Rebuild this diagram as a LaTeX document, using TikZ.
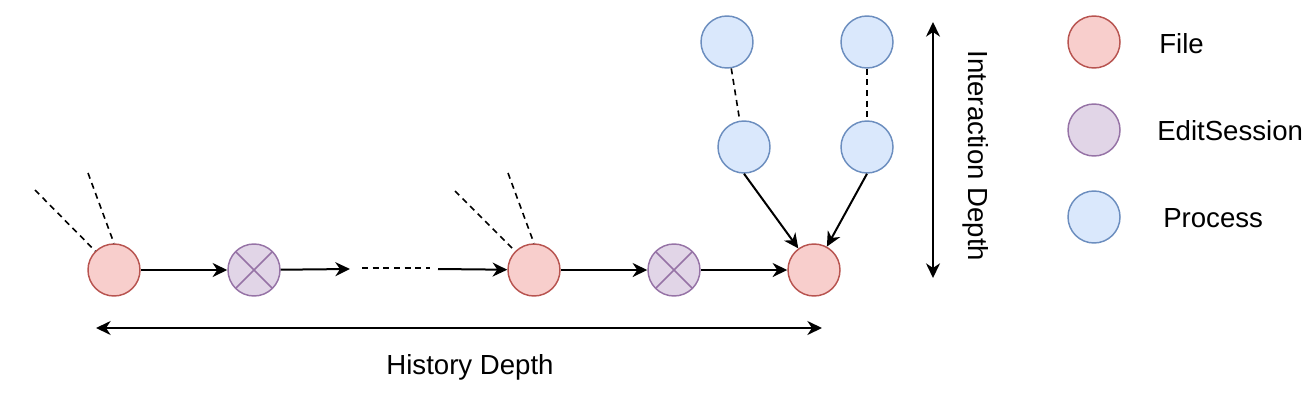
\documentclass[tikz,border=0pt]{standalone}
\usepackage{fontspec}
\setmainfont{Liberation Sans}
\usetikzlibrary{arrows.meta}
\definecolor{filefill}{HTML}{F8CECC}
\definecolor{filedraw}{HTML}{B85450}
\definecolor{editfill}{HTML}{E1D5E7}
\definecolor{editdraw}{HTML}{9673A6}
\definecolor{procfill}{HTML}{DAE8FC}
\definecolor{procdraw}{HTML}{6C8EBF}
\begin{document}
\begin{tikzpicture}[x=0.75pt,y=-0.75pt,
  every node/.style={font=\fontsize{20.7pt}{24pt}\selectfont},
  circ/.style={circle,minimum size=39pt,inner sep=0pt,line width=1.1pt},
  filenode/.style={circ,draw=filedraw,fill=filefill},
  editplain/.style={circ,draw=editdraw,fill=editfill},
  editnode/.style={editplain,
    path picture={\draw[editdraw,line width=1.1pt]
      (path picture bounding box.north west)--(path picture bounding box.south east)
      (path picture bounding box.north east)--(path picture bounding box.south west);}},
  procnode/.style={circ,draw=procdraw,fill=procfill},
  arr/.style={line width=1.5pt,-{Stealth[length=11pt,width=10.5pt,inset=3.5pt]}},
  dbl/.style={line width=1.5pt,{Stealth[length=11pt,width=10.5pt,inset=3.5pt]}-{Stealth[length=11pt,width=10.5pt,inset=3.5pt]}},
  dsh/.style={line width=1.2pt,dash pattern=on 4.5pt off 3.5pt},
  lbl/.style={inner sep=0pt}
]
\useasboundingbox (0,0) rectangle (1316,400);

% main chain
\node[filenode] (f1) at (114,270) {};
\node[editnode] (e1) at (254,270) {};
\node[filenode] (f2) at (534,270) {};
\node[editnode] (e2) at (674,270) {};
\node[filenode] (f3) at (814,270) {};

% processes
\node[procnode] (pt1) at (727,42) {};
\node[procnode] (pt2) at (867,42) {};
\node[procnode] (pm1) at (744,147) {};
\node[procnode] (pm2) at (867,147) {};

% free coordinates
\coordinate (c1) at (350,269);
\coordinate (ds1) at (362,268);
\coordinate (ds2) at (430,268);
\coordinate (c2) at (438,269);
\coordinate (a1) at (35,190);
\coordinate (a2) at (88,173);
\coordinate (b1) at (455,191);
\coordinate (b2) at (508,173);
\coordinate (h1) at (96,328);
\coordinate (h2) at (822,328);
\coordinate (v1) at (933,22);
\coordinate (v2) at (933,278);

% arrows
\draw[arr] (f1) -- (e1);
\draw[arr] (e1) -- (c1);
\draw[dsh] (ds1) -- (ds2);
\draw[arr] (c2) -- (f2);
\draw[arr] (f2) -- (e2);
\draw[arr] (e2) -- (f3);
\draw[arr] (pm1.south) -- (f3);
\draw[arr] (pm2.south) -- (f3);

% dashed links
\draw[dsh] (a1) -- (f1);
\draw[dsh] (a2) -- (f1.north);
\draw[dsh] (b1) -- (f2);
\draw[dsh] (b2) -- (f2.north);
\draw[dsh] (pt1) -- (pm1);
\draw[dsh] (pt2) -- (pm2);

% depth arrows
\draw[dbl] (h1) -- (h2);
\draw[dbl] (v1) -- (v2);
\node[lbl,anchor=base] (hd) at (470,374) {History Depth};
\node[lbl,rotate=-90] (id) at (976,156) {Interaction Depth};

% legend
\node[filenode] (lf) at (1094,42) {};
\node[editplain] (le) at (1094,130) {};
\node[procnode] (lp) at (1094,217) {};
\node[lbl,anchor=west] (lft) at (1159,44) {File};
\node[lbl,anchor=west] (let) at (1157,131) {EditSession};
\node[lbl,anchor=west] (lpt) at (1163,218) {Process};
\end{tikzpicture}
\end{document}
